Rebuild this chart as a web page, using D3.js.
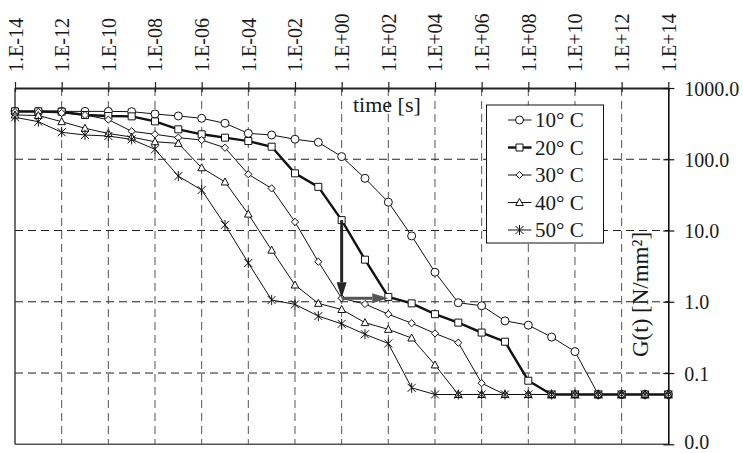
<!DOCTYPE html>
<html><head><meta charset="utf-8">
<script src="https://cdn.jsdelivr.net/npm/d3@7"></script>
<style>
body{margin:0;background:#fff}
svg{display:block}
text{font-family:"Liberation Serif","Times New Roman",serif;fill:#1a1a1a}
</style>
</head><body>
<svg width="743" height="453"></svg>
<script>
// ---------- data ----------
const times = [1e-14,1e-13,1e-12,1e-11,1e-10,1e-9,1e-8,1e-7,1e-6,1e-5,1e-4,1e-3,1e-2,1e-1,1e0,
               1e1,1e2,1e3,1e4,1e5,1e6,1e7,1e8,1e9,1e10,1e11,1e12,1e13,1e14];
const g10 = [470,470,470,470,470,465,432,405,376,320,231,219,191,173,109,54,25,8.4,2.6,0.97,0.88,0.54,0.47,0.32,0.20,0.05,0.05,0.05,0.05];
const g20 = [470,470,465,418,405,400,340,263,224,201,180,150,63.5,41,14,3.9,1.17,0.95,0.67,0.51,0.37,0.275,0.078,0.05,0.05,0.05,0.05,0.05,0.05];
const g30 = [460,460,446,418,360,247,224,201,186,145,61.5,39,13.2,3.65,1.12,0.93,0.67,0.50,0.36,0.267,0.072,0.05,0.05,0.05,0.05,0.05,0.05,0.05,0.05];
const g40 = [418,411,337,272,230,205,176,167,76,48,17,5.3,1.72,0.95,0.78,0.51,0.41,0.31,0.13,0.05,0.05,0.05,0.05,0.05,0.05,0.05,0.05,0.05,0.05];
const g50 = [388,337,239,219,212,190,138,58,37,12,3.5,1.06,0.92,0.63,0.49,0.35,0.26,0.062,0.05,0.05,0.05,0.05,0.05,0.05,0.05,0.05,0.05,0.05,0.05];
const seriesNames = ["10° C","20° C","30° C","40° C","50° C"];
const seriesMarkers = ["circle","square","diamond","triangle","star"];
const xTicks = [1e-14,1e-12,1e-10,1e-8,1e-6,1e-4,1e-2,1e0,1e2,1e4,1e6,1e8,1e10,1e12,1e14];
const xTickLabels = ["1.E-14","1.E-12","1.E-10","1.E-08","1.E-06","1.E-04","1.E-02","1.E+00","1.E+02","1.E+04","1.E+06","1.E+08","1.E+10","1.E+12","1.E+14"];
const yTicks = [0.01,0.1,1,10,100,1000];
const yTickLabels = ["0.0","0.1","1.0","10.0","100.0","1000.0"];
const arrowT = [1, 1, 100];
const arrowG = [14, 1.12, 1.12];
const xTitle = "time [s]";
const yTitle = "G(t) [N/mm²]";

// ---------- layout ----------
const svg = d3.select("svg");
const X0 = 15, X1 = 668.3, Y0 = 88, Y1 = 444.3;
const x = d3.scaleLog().domain([1e-14,1e14]).range([X0,X1]);
const y = d3.scaleLog().domain([0.01,1000]).range([Y1,Y0]);

// grid
const grid = svg.append("g");
grid.selectAll(".vg").data(xTicks.slice(1,-1)).join("line")
  .attr("x1",d=>x(d)).attr("x2",d=>x(d)).attr("y1",Y0).attr("y2",Y1)
  .attr("stroke","#555").attr("stroke-width",1).attr("stroke-dasharray","8,5");
grid.selectAll(".hg").data(yTicks.slice(1,-1)).join("line")
  .attr("x1",X0).attr("x2",X1).attr("y1",d=>y(d)).attr("y2",d=>y(d))
  .attr("stroke","#222").attr("stroke-width",1).attr("stroke-dasharray","8,5");
// bottom & left frame
svg.append("line").attr("x1",X0).attr("x2",X1).attr("y1",y(0.01)).attr("y2",y(0.01))
  .attr("stroke","#555").attr("stroke-width",1.5);
svg.append("line").attr("x1",X0).attr("x2",X0).attr("y1",Y0).attr("y2",Y1)
  .attr("stroke","#222").attr("stroke-width",1.3);

// top axis
const ax = svg.append("g").attr("transform",`translate(0,${Y0})`)
  .call(d3.axisTop(x).tickValues(xTicks).tickSizeOuter(0).tickFormat((d,i)=>xTickLabels[i]));
ax.select(".domain").attr("stroke","#222").attr("stroke-width",2);
ax.selectAll(".tick line").attr("y1",4).attr("y2",-6).attr("stroke","#222").attr("stroke-width",1.2);
ax.selectAll(".tick text").attr("x",0).attr("y",0).attr("dy","0.35em")
  .attr("transform","translate(0,-16) rotate(-90)").attr("text-anchor","start")
  .style("font-family",'"Liberation Serif",serif').style("font-size","20px").attr("fill","#1a1a1a");

// right axis
const ay = svg.append("g").attr("transform",`translate(${X1},0)`)
  .call(d3.axisRight(y).tickValues(yTicks).tickSizeOuter(0).tickFormat((d,i)=>yTickLabels[i]));
ay.select(".domain").attr("stroke","#111").attr("stroke-width",1.6);
ay.selectAll(".tick line").attr("x1",-5).attr("x2",6).attr("stroke","#111").attr("stroke-width",1.2);
ay.selectAll(".tick text").attr("x",16).attr("dy",(d,i)=>i===0?"0.2em":"0.35em")
  .style("font-family",'"Liberation Serif",serif').style("font-size","20px").attr("fill","#1a1a1a");

// titles
svg.append("text").attr("x",353).attr("y",112).style("font-size","22px").text(xTitle);
svg.append("text").attr("transform","translate(648,357) rotate(-90)")
  .style("font-size","23px").text(yTitle);

// marker shapes
function markerPath(type){
  switch(type){
    case "circle": return "M4,0A4,4 0 1,1 -4,0A4,4 0 1,1 4,0Z";
    case "square": return "M-3.5,-3.5H3.5V3.5H-3.5Z";
    case "diamond": return "M0,-3.6L3.6,0L0,3.6L-3.6,0Z";
    case "triangle": return "M0,-4L3.8,3L-3.8,3Z";
    case "star": return "M-4,-4L4,4M-4,4L4,-4M0,-5L0,5";
  }
}

const allSeries = [g10,g20,g30,g40,g50].map((vals,i)=>({
  name: seriesNames[i], marker: seriesMarkers[i], bold: i===1,
  pts: times.map((t,j)=>({t, v: vals[j]}))
}));

const line = d3.line().x(d=>x(d.t)).y(d=>y(d.v));
const plot = svg.append("g");
allSeries.forEach(s=>{
  plot.append("path").datum(s.pts).attr("d",line).attr("fill","none")
    .attr("stroke","#111").attr("stroke-width",s.bold?2.4:1);
});
allSeries.forEach(s=>{
  plot.selectAll(null).data(s.pts).join("path")
    .attr("transform",d=>`translate(${x(d.t)},${y(d.v)})`)
    .attr("d",markerPath(s.marker))
    .attr("fill",s.marker==="star"?"none":"#fff")
    .attr("stroke","#111").attr("stroke-width",1);
});

// arrows
function arrow(x1,y1,x2,y2,color){
  const dx=x2-x1, dy=y2-y1, L=Math.hypot(dx,dy), ux=dx/L, uy=dy/L;
  const hl=16, hw=5;
  const bx=x2-ux*hl, by=y2-uy*hl;
  svg.append("line").attr("x1",x1).attr("y1",y1).attr("x2",bx).attr("y2",by)
    .attr("stroke",color).attr("stroke-width",3);
  svg.append("path").attr("d",`M${x2},${y2}L${bx-uy*hw},${by+ux*hw}L${bx+uy*hw},${by-ux*hw}Z`)
    .attr("fill",color);
}
arrow(x(arrowT[0]),y(arrowG[0]),x(arrowT[1]),y(arrowG[1]),"#262626");
arrow(x(arrowT[1]),y(arrowG[1]),x(arrowT[2]),y(arrowG[2]),"#555");

// legend
const lg = svg.append("g");
lg.append("rect").attr("x",486.5).attr("y",105).attr("width",117).attr("height",138)
  .attr("fill","#fff").attr("stroke","#111").attr("stroke-width",1);
allSeries.forEach((s,i)=>{
  const cy = 120 + i*27.5;
  lg.append("line").attr("x1",508).attr("x2",531.5).attr("y1",cy).attr("y2",cy)
    .attr("stroke","#111").attr("stroke-width",s.bold?2.4:1);
  lg.append("path").attr("transform",`translate(519.5,${cy})`).attr("d",markerPath(s.marker))
    .attr("fill",s.marker==="star"?"none":"#fff").attr("stroke","#111");
  lg.append("text").attr("x",535).attr("y",cy).attr("dy","0.35em")
    .style("font-size","21px").text(s.name);
});
</script>
</body></html>
